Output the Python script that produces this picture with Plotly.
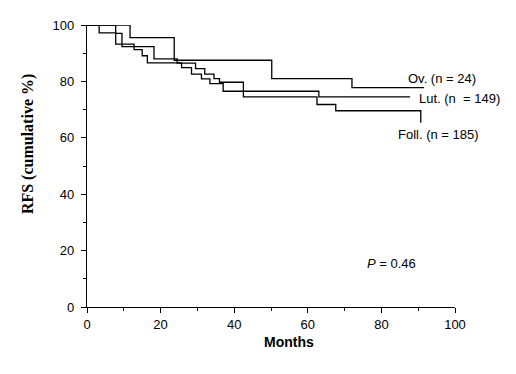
import plotly.graph_objects as go

# Kaplan-Meier style step data (months, cumulative RFS %)
ov_months = [0, 11.7, 23.7, 50.2, 72.0, 91.6]
ov_rfs = [100, 95.5, 87.5, 81.0, 77.8, 77.8]

lut_months = [0, 3.3, 7.8, 12.8, 15.0, 16.4, 25.7, 28.4, 31.1, 33.4, 37.0, 63.0, 87.8]
lut_rfs = [100, 97.2, 93.2, 91.3, 89.1, 86.6, 84.9, 82.6, 80.9, 79.2, 76.5, 74.5, 74.5]

foll_months = [0, 7.8, 9.5, 18.2, 24.5, 29.5, 32.0, 34.5, 36.0, 42.5, 62.5, 67.6, 90.7, 90.7]
foll_rfs = [100, 97.0, 92.3, 88.0, 86.5, 84.5, 82.6, 81.0, 79.7, 74.5, 71.8, 69.6, 69.6, 65.3]

x_ticks = [0, 20, 40, 60, 80, 100]
y_ticks = [0, 20, 40, 60, 80, 100]

labels = ["Ov. (n = 24)", "Lut. (n  = 149)", "Foll. (n = 185)"]

fig = go.Figure()
for xs, ys in [(ov_months, ov_rfs), (lut_months, lut_rfs), (foll_months, foll_rfs)]:
    fig.add_trace(go.Scatter(x=xs, y=ys, mode="lines", line=dict(color="black", width=1.3, shape="hv"),
                             showlegend=False, hoverinfo="skip"))

font = dict(family="Liberation Sans, Arial, sans-serif", size=13, color="black")

fig.update_layout(
    width=516, height=374,
    margin=dict(l=79, r=69, t=10, b=75),
    paper_bgcolor="white", plot_bgcolor="white",
    font=font,
    xaxis=dict(range=[0, 100], tickvals=x_ticks, ticks="outside", ticklen=5, tickwidth=1.2,
               tickcolor="black", showline=True, linecolor="black", linewidth=1.3,
               showgrid=False, zeroline=False, tickfont=font,
               minor=dict(dtick=10, tick0=0, ticks="outside", ticklen=3, tickcolor="black", showgrid=False)),
    yaxis=dict(range=[0, 100], tickvals=y_ticks, ticks="outside", ticklen=5, tickwidth=1.2,
               tickcolor="black", showline=True, linecolor="black", linewidth=1.3,
               showgrid=False, zeroline=False, tickfont=font, ticklabelstandoff=4,
               minor=dict(dtick=10, tick0=0, ticks="outside", ticklen=3, tickcolor="black", showgrid=False)),
)

ann = [
    dict(x=86.7, y=81.0, text=labels[0], xanchor="left", yanchor="middle"),
    dict(x=89.7, y=74.0, text=labels[1], xanchor="left", yanchor="middle"),
    dict(x=84.0, y=61.2, text=labels[2], xanchor="left", yanchor="middle"),
    dict(x=75.6, y=15.6, text="<i>P</i> = 0.46", xanchor="left", yanchor="middle"),
]
for a in ann:
    fig.add_annotation(xref="x", yref="y", showarrow=False, font=font, **a)

fig.add_annotation(xref="paper", yref="paper", x=0.549, y=-0.125, text="<b>Months</b>", showarrow=False,
                   xanchor="center", yanchor="middle",
                   font=dict(family="Liberation Sans, Arial, sans-serif", size=14, color="black"))
fig.add_annotation(xref="paper", yref="paper", x=-0.16, y=0.578, text="<b>RFS (cumulative %)</b>",
                   showarrow=False, textangle=-90, xanchor="center", yanchor="middle",
                   font=dict(family="Liberation Serif, Times New Roman, serif", size=16, color="black"))

fig.write_html("out.html")
